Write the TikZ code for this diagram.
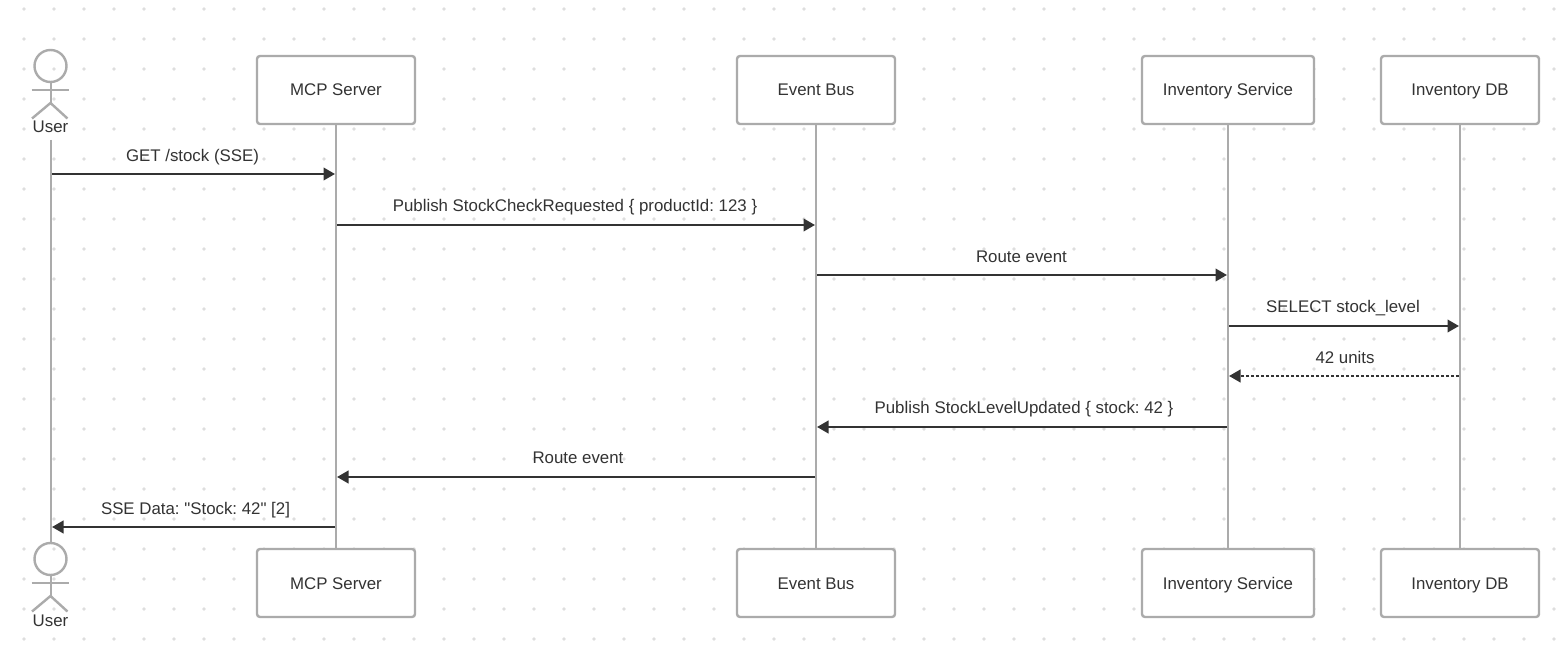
\documentclass[tikz,border=0pt]{standalone}
\usepackage{fontspec}
\setmainfont{Liberation Sans}[Ligatures=TeXOff]
\usetikzlibrary{arrows.meta}
\definecolor{lineC}{HTML}{ABABAB}
\definecolor{inkC}{HTML}{333333}
\definecolor{dotC}{HTML}{DEDEDE}
\tikzset{
  labelfont/.style={text=inkC,font=\fontsize{16.85}{20}\selectfont\frenchspacing,text height=12pt,text depth=0pt},
  partbox/.style={draw=lineC,line width=2.4pt,fill=white,rounded corners=3pt,minimum width=#1,minimum height=68pt,inner sep=0pt,labelfont},
  lifeline/.style={draw=lineC,line width=2.4pt},
  stick/.style={draw=lineC,line width=2.4pt},
  msg/.style={draw=inkC,line width=2.4pt,-{Triangle[length=11.5pt,width=12.5pt]},shorten >=1pt,shorten <=1pt},
  reply/.style={msg,dash pattern=on 3pt off 2pt},
  msglabel/.style={labelfont,inner sep=0pt,anchor=center},
  actorlabel/.style={msglabel}
}
\begin{document}
\begin{tikzpicture}[x=1pt,y=-1pt]
\useasboundingbox (0,0) rectangle (1567,658);
\fill[white] (0,0) rectangle (1567,658);
% dotted background
\foreach \dx in {0,...,51}{\foreach \dy in {0,...,21}{
  \fill[dotC] ({24+30*\dx},{9+30*\dy}) circle (1.9pt);}}
% lifeline end coordinates
\coordinate (userLT) at (51,140);
\coordinate (userLB) at (51,544);
% participants, top
\node[partbox=158pt] (mcpT) at (336,90) {};
\node[partbox=158pt] (busT) at (816,90) {};
\node[partbox=172pt] (invT) at (1228,90) {};
\node[partbox=158pt] (dbT) at (1460,90) {};
% participants, bottom
\node[partbox=158pt] (mcpB) at (336,583) {};
\node[partbox=158pt] (busB) at (816,583) {};
\node[partbox=172pt] (invB) at (1228,583) {};
\node[partbox=158pt] (dbB) at (1460,583) {};
% lifelines
\draw[lifeline] (userLT) -- (userLB);
\draw[lifeline] (mcpT) -- (mcpB);
\draw[lifeline] (busT) -- (busB);
\draw[lifeline] (invT) -- (invB);
\draw[lifeline] (dbT) -- (dbB);
% box labels
\node[msglabel] at (mcpT) {MCP Server};
\node[msglabel] at (busT) {Event Bus};
\node[msglabel] at (invT) {Inventory Service};
\node[msglabel] at (dbT) {Inventory DB};
\node[msglabel] at (mcpB) {MCP Server};
\node[msglabel] at (busB) {Event Bus};
\node[msglabel] at (invB) {Inventory Service};
\node[msglabel] at (dbB) {Inventory DB};
% actors
\node[actorlabel] (userT) at (50.5,127) {User};
\node[actorlabel] (userB) at (50.5,620) {User};
\foreach \o in {0,493}{
  \draw[stick] (50.5,{66+\o}) circle (16pt);
  \draw[stick] (51,{82+\o}) -- (51,{103+\o});
  \draw[stick] (31.5,{90+\o}) -- (69,{90+\o});
  \draw[stick] (32,{118.5+\o}) -- (50.5,{103+\o}) -- (67.5,{118.5+\o});
}
% message anchors
\foreach \i/\y in {1/174,2/225,3/275,4/326,5/376,6/427,7/477,8/527}{
  \coordinate (u\i) at (51,\y);
  \coordinate (m\i) at (336,\y);
  \coordinate (b\i) at (816,\y);
  \coordinate (s\i) at (1228,\y);
  \coordinate (d\i) at (1460,\y);
}
% messages
\draw[msg] (u1) -- (m1);
\draw[msg] (m2) -- (b2);
\draw[msg] (b3) -- (s3);
\draw[msg] (s4) -- (d4);
\draw[reply] (d5) -- (s5);
\draw[msg] (s6) -- (b6);
\draw[msg] (b7) -- (m7);
\draw[msg] (m8) -- (u8);
% labels
\node[msglabel] (l1) at (192.5,155) {GET /stock (SSE)};
\node[msglabel] (l2) at (575,205.5) {Publish StockCheckRequested \{ productId: 123 \}};
\node[msglabel] (l3) at (1021.5,256) {Route event};
\node[msglabel] (l4) at (1343,306) {SELECT stock\_level};
\node[msglabel] (l5) at (1345,357) {42 units};
\node[msglabel] (l6) at (1024,407) {Publish StockLevelUpdated \{ stock: 42 \}};
\node[msglabel] (l7) at (578,457.5) {Route event};
\node[msglabel] (l8) at (195.5,508) {SSE Data: "Stock: 42" [2]};
\end{tikzpicture}
\end{document}
